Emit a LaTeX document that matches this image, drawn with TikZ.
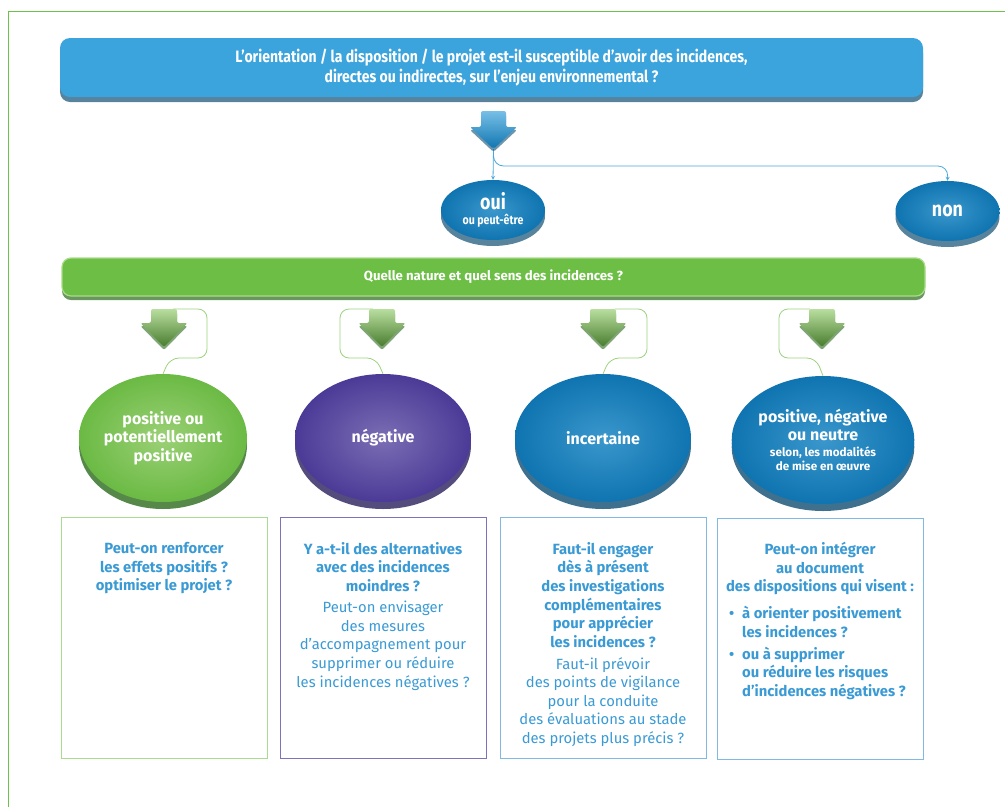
\documentclass[tikz,border=0pt]{standalone}
\usepackage{fontspec}
\setmainfont{Fira Sans}
\newfontfamily\condfont{Fira Sans}[FakeStretch=0.85]
\usetikzlibrary{shapes.geometric,shadows}

\definecolor{frameg}{HTML}{6CC24A}
\definecolor{bannerb}{HTML}{3CA4DC}
\definecolor{shadowb}{HTML}{0F4E72}
\definecolor{linkb}{HTML}{4AA8DC}
\definecolor{barg}{HTML}{6DBE45}
\definecolor{barlight}{HTML}{A9DB8A}
\definecolor{shadowg}{HTML}{2B6A1C}
\definecolor{linkg}{HTML}{9BD27E}
\definecolor{ellgin}{HTML}{9BD076}
\definecolor{ellgout}{HTML}{6BBA44}
\definecolor{ellpin}{HTML}{7C6DB4}
\definecolor{ellpout}{HTML}{4B3B97}
\definecolor{shadowp}{HTML}{2A1F5E}
\definecolor{ellbin}{HTML}{3A97CC}
\definecolor{ellbout}{HTML}{0F74B0}
\definecolor{txtb}{HTML}{3A9AD4}
\definecolor{boxg}{HTML}{A8DC8E}
\definecolor{boxp}{HTML}{7F71BC}
\definecolor{boxb}{HTML}{80BAE2}

\begin{document}
\begin{tikzpicture}[x=1pt, y=-1pt,
    banner/.style={rounded corners=10pt, fill=bannerb, minimum width=863pt, minimum height=59pt,
        text=white, align=center, font=\condfont\bfseries\fontsize{16.5}{20}\selectfont,
        drop shadow={shadow xshift=0pt, shadow yshift=-5pt, fill=shadowb, opacity=.7}},
    bar/.style={rounded corners=9pt, fill=barg, draw=barlight, line width=1.2pt, minimum width=863pt,
        minimum height=38pt, text=white, font=\bfseries\fontsize{13.2}{15}\selectfont,
        drop shadow={shadow xshift=0pt, shadow yshift=-4pt, fill=shadowg, opacity=.7}},
    bubble/.style={ellipse, minimum width=104pt, minimum height=60pt, inner sep=0pt,
        inner color=ellbin, outer color=ellbout, text=white, align=center, font=\condfont\bfseries,
        drop shadow={shadow xshift=0pt, shadow yshift=-6pt, fill=shadowb, opacity=.7}},
    ell/.style={ellipse, minimum width=176pt, minimum height=128pt, inner sep=0pt,
        text=white, align=center, font=\bfseries\fontsize{16}{18.5}\selectfont},
    greenell/.style={ell, inner color=ellgin, outer color=ellgout,
        drop shadow={shadow xshift=0pt, shadow yshift=-7pt, fill=shadowg, opacity=.8}},
    purpleell/.style={ell, inner color=ellpin, outer color=ellpout,
        drop shadow={shadow xshift=0pt, shadow yshift=-7pt, fill=shadowp, opacity=.8}},
    blueell/.style={ell, inner color=ellbin, outer color=ellbout,
        drop shadow={shadow xshift=0pt, shadow yshift=-7pt, fill=shadowb, opacity=.8}},
    bluearrow/.style={rounded corners=2pt, top color=bannerb!70!white, bottom color=ellbout,
        drop shadow={shadow xshift=0pt, shadow yshift=-3pt, fill=shadowb, opacity=.6}},
    greenarrow/.style={rounded corners=2pt, top color=ellgin!70!white, bottom color=barg!65!black,
        drop shadow={shadow xshift=0pt, shadow yshift=-3pt, fill=shadowg, opacity=.6}},
    bluelink/.style={draw=linkb, line width=0.8pt, -stealth},
    greenlink/.style={draw=linkg, line width=0.8pt, rounded corners=9pt},
    qbox/.style={draw, line width=1pt, minimum width=206pt, minimum height=241pt, inner sep=0pt},
    qtext/.style={text=txtb, align=center, inner sep=0pt, anchor=north,
        font=\bfseries\fontsize{14.8}{18.6}\selectfont},
    qmore/.style={qtext, font=\fontsize{14.8}{18.6}\selectfont}
  ]
    \useasboundingbox (0,0) rectangle (1005,807);
    % frame
    \draw[frameg, line width=1pt] (8,807) -- (8,11) -- (1005,11);

    % question
    \node[banner] (ask) at (491.5,67.5) {L’orientation / la disposition / le projet est-il susceptible d’avoir des incidences,\\directes ou indirectes, sur l’enjeu environnemental ?};
    \coordinate (bigtip) at (493.5,149);
    \coordinate (bend) at (948,166);

    % oui / non
    \node[bubble] (oui) at (493,210) {\fontsize{21}{16}\selectfont oui\\[3pt]\fontsize{12.5}{14}\selectfont ou peut-être};
    \node[bubble] (non) at (947.5,211) {\fontsize{21}{20}\selectfont non};
    \draw[bluelink] (bigtip) -- (oui.north);
    \draw[bluelink, rounded corners=10pt] (bigtip) |- (bend) -- (non.north);
    \path[bluearrow] (481,111) -- (506,111) -- (506,127) -- (517,127) -- (bigtip) -- (470,127) -- (481,127) -- cycle;

    % nature
    \node[bar] (nature) at (493.5,277) {Quelle nature et quel sens des incidences ?};

    % answers
    \node[greenell] (pos) at (163,438) [minimum width=168pt] {positive ou\\potentiellement\\positive};
    \node[purpleell] (neg) at (383,438) {négative};
    \node[blueell] (inc) at (603,438) {incertaine};
    \node[blueell] (neu) at (823,440) {positive, négative\\ou neutre\\[-3pt]{\fontsize{11.7}{14}\selectfont selon, les modalités}\\[-4pt]{\fontsize{11.7}{14}\selectfont de mise en œuvre}};

    \coordinate (g1) at (173,309);
    \coordinate (g2) at (373,309);
    \coordinate (g3) at (615,309);
    \coordinate (g4) at (810,309);
    \draw[greenlink] (g1) -- (207,309) -- (207,358) -- (170,358) -- (pos.north);
    \draw[greenlink] (g2) -- (340,309) -- (340,358) -- (376,358) -- (neg.north);
    \draw[greenlink] (g3) -- (647,309) -- (647,358) -- (610,358) -- (inc.north);
    \draw[greenlink] (g4) -- (779,309) -- (779,358) -- (816,358) -- (neu.north);
    \path[greenarrow] (151,309) -- (177,309) -- (177,323) -- (187.5,323) -- (164,347) -- (140.5,323) -- (151,323) -- cycle;
    \path[greenarrow] (369,309) -- (395,309) -- (395,323) -- (405.5,323) -- (382,347) -- (358.5,323) -- (369,323) -- cycle;
    \path[greenarrow] (590,309) -- (616,309) -- (616,323) -- (626.5,323) -- (603,347) -- (579.5,323) -- (590,323) -- cycle;
    \path[greenarrow] (809,309) -- (835,309) -- (835,323) -- (845.5,323) -- (822,347) -- (798.5,323) -- (809,323) -- cycle;

    % questions
    \node[qbox, draw=boxg] (b1) at (164,637.5) {};
    \node[qbox, draw=boxp] (b2) at (383,637.5) {};
    \node[qbox, draw=boxb] (b3) at (603,637.5) {};
    \node[qbox, draw=boxb] (b4) at (820,638.5) {};

    \node[qtext] (q1) at (164,542) {Peut-on renforcer\\les effets positifs ?\\optimiser le projet ?};
    \node[qtext] (q2) at (383,542) {Y a-t-il des alternatives\\avec des incidences\\moindres ?};
    \node[qmore] (q2b) at (383,601) {Peut-on envisager\\des mesures\\d’accompagnement pour\\supprimer ou réduire\\les incidences négatives ?};
    \node[qtext] (q3) at (603,542) {Faut-il engager\\dès à présent\\des investigations\\complémentaires\\pour apprécier\\les incidences ?};
    \node[qmore] (q3b) at (603,657) {Faut-il prévoir\\des points de vigilance\\pour la conduite\\des évaluations au stade\\des projets plus précis ?};
    \node[qtext] (q4) at (820,542) {Peut-on intégrer\\au document\\des dispositions qui visent :};
    \node[qtext, anchor=north west, align=left] (q4list) at (729,606) {\makebox[13pt][l]{•}à orienter positivement\\\hspace*{13pt}les incidences ?\\[3.4pt]\makebox[13pt][l]{•}ou à supprimer\\\hspace*{13pt}ou réduire les risques\\\hspace*{13pt}d’incidences négatives ?};
\end{tikzpicture}
\end{document}
